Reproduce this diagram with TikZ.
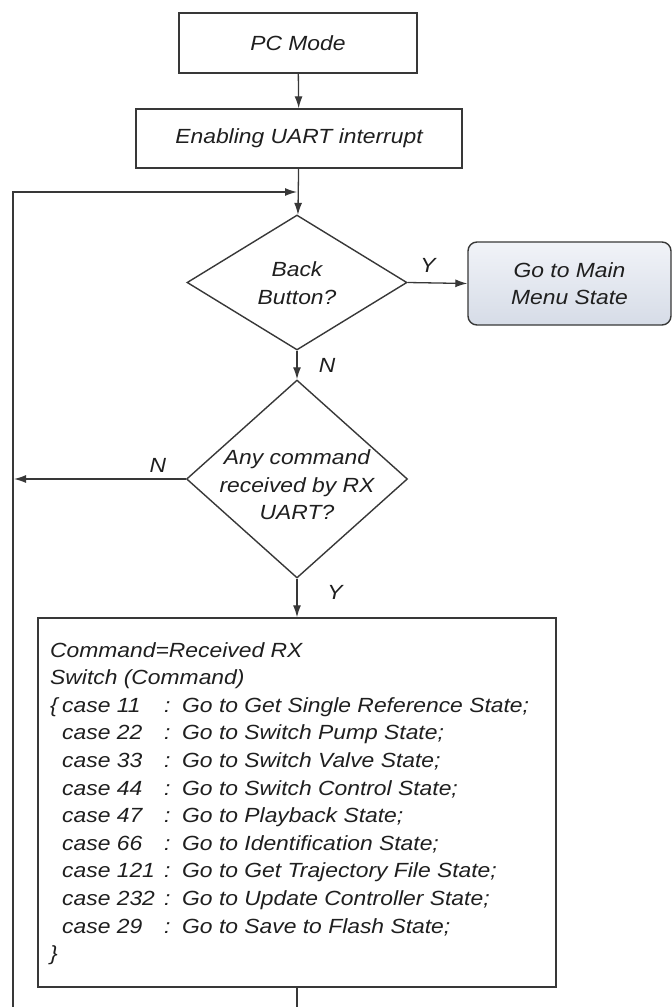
\documentclass[tikz,border=0pt]{standalone}
\usepackage{fontspec}
\setmainfont{Liberation Sans}[FakeStretch=1.115]
\usetikzlibrary{arrows.meta,shapes.geometric}
\definecolor{linegray}{HTML}{383838}
\definecolor{inkgray}{HTML}{1F1F1F}
\definecolor{menutop}{HTML}{F1F3F8}
\definecolor{menubot}{HTML}{D6DCE7}
% one line of the switch statement: prefix, case label, action
\newcommand{\swcase}[3]{\makebox[12pt][l]{#1}\makebox[102pt][l]{#2}\makebox[18pt][l]{:}#3}
\begin{document}
\begin{tikzpicture}[x=1pt,y=-1pt,
  every node/.style={font=\fontsize{20.5}{27.6}\selectfont\itshape, text=inkgray},
  flow/.style={draw=linegray, line width=1.4pt},
  procbox/.style={flow, rectangle, inner sep=0pt, fill=white},
  decision/.style={flow, diamond, inner sep=0pt, fill=white},
  menubox/.style={flow, rectangle, rounded corners=9pt, inner sep=0pt, align=center,
    top color=menutop, bottom color=menubot},
  arrowline/.style={draw=linegray, line width=1.3pt, -{Latex[length=12pt,width=8pt]}},
  plainline/.style={draw=linegray, line width=1.3pt},
  lbl/.style={inner sep=0pt}
]
\useasboundingbox (0,0) rectangle (672,1007);

% process boxes
\node[procbox, minimum width=238pt, minimum height=60pt] (pc) at (298,43) {PC Mode};
\node[procbox, minimum width=326pt, minimum height=59pt] (uart) at (299,138.5) {Enabling UART interrupt};

% decisions
\node[decision, minimum width=220pt, minimum height=135pt] (back) at (297,282.5) {};
\node[lbl, align=center] (backtxt) at (297,283) {Back\\Button?};
\node[decision, minimum width=221pt, minimum height=198pt] (cmd) at (297,479) {};
\node[lbl, align=center] (cmdtxt) at (297,485) {Any command\\received by RX\\UART?};

% exit to main menu
\node[menubox, minimum width=203pt, minimum height=83pt] (menu) at (569.5,283.5) {Go to Main\\Menu State};

% command dispatch box
\node[procbox, minimum width=518pt, minimum height=369pt] (sw) at (297,802.5) {};
\node[lbl, align=left, anchor=north west] (swtxt) at (50,642) {%
Command=Received RX\\
Switch (Command)\\
\swcase{\{}{case 11}{Go to Get Single Reference State;}\\
\swcase{}{case 22}{Go to Switch Pump State;}\\
\swcase{}{case 33}{Go to Switch Valve State;}\\
\swcase{}{case 44}{Go to Switch Control State;}\\
\swcase{}{case 47}{Go to Playback State;}\\
\swcase{}{case 66}{Go to Identification State;}\\
\swcase{}{case 121}{Go to Get Trajectory File State;}\\
\swcase{}{case 232}{Go to Update Controller State;}\\
\swcase{}{case 29}{Go to Save to Flash State;}\\
\}};

% loop-back points
\coordinate (join) at (297,192);
\coordinate (loopcorner) at (13,192);
\coordinate (loopbase) at (13,1007);
\coordinate (exitpt) at (297,1007);
\coordinate (leftjoin) at (14,479);

% connectors
\draw[arrowline] (pc) -- (uart);
\draw[arrowline] (uart) -- (back);
\draw[arrowline] (loopbase) -- (loopcorner) -- (join);
\draw[arrowline] (back.east) -- (menu.west);
\draw[arrowline] (back) -- (cmd);
\draw[arrowline] (cmd.west) -- (leftjoin);
\draw[arrowline] (cmd) -- (sw);
\draw[plainline] (sw.south) -- (exitpt);

% branch labels
\node[lbl] (ylbl1) at (428,265) {Y};
\node[lbl] (nlbl1) at (327,365) {N};
\node[lbl] (nlbl2) at (158,465) {N};
\node[lbl] (ylbl2) at (335,592) {Y};
\end{tikzpicture}
\end{document}
